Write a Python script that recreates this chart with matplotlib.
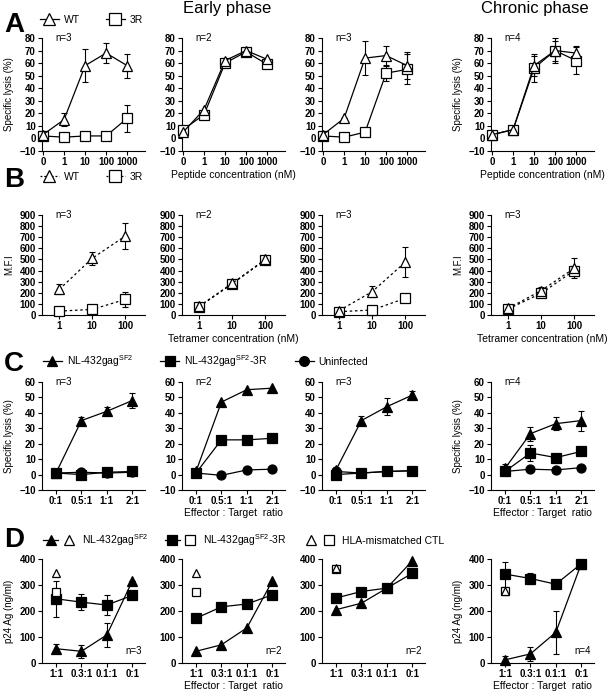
import numpy as np
import matplotlib
matplotlib.use("Agg")
import matplotlib.pyplot as plt
from matplotlib.lines import Line2D
from matplotlib.legend_handler import HandlerTuple

plt.rcParams['font.family'] = ['Liberation Sans', 'DejaVu Sans']

#%% data, one entry per column (early x3, chronic)
A_conc = ['0', '1', '10', '100', '1000']
A_n = ['n=3', 'n=2', 'n=3', 'n=4']
A_wt = [[3, 15, 58, 68, 58], [5, 23, 62, 70, 63], [3, 16, 64, 66, 58], [3, 7, 58, 70, 68]]
A_wt_err = [[0, 5, 13, 8, 9.5], None, [0, 0, 13.5, 7.5, 11], [2, 2, 8, 10, 6]]
A_3r = [[2, 1, 2, 2, 16], [7, 19, 60, 69, 59], [2, 1, 5, 52, 55], [3, 7, 56, 70, 62]]
A_3r_err = [[0, 0, 0, 0, 11], None, [0, 0, 0, 6, 12], [2, 2, 11, 8, 11]]

B_conc = [1, 10, 100]
B_n = ['n=3', 'n=2', 'n=3', 'n=3']
B_wt = [[230, 510, 710], [80, 285, 500], [40, 210, 475], [60, 220, 420]]
B_wt_err = [[45, 60, 120], None, [0, 50, 135], [0, 30, 90]]
B_3r = [[35, 50, 140], [75, 280, 495], [30, 45, 150], [55, 195, 400]]
B_3r_err = [[0, 0, 70], None, [0, 0, 35], [0, 30, 35]]

C_ratio = ['0:1', '0.5:1', '1:1', '2:1']
C_n = ['n=3', 'n=2', 'n=3', 'n=4']
C_wt = [[1, 35, 41, 48], [2, 47, 55, 56], [3, 35, 44, 51.5], [4, 26.5, 33, 35]]
C_wt_err = [[0, 2, 2.5, 5], None, [0, 3, 5.5, 2.5], [3, 4.5, 4, 6.5]]
C_3r = [[1, 0, 1.5, 2], [1, 22.5, 22.5, 23.5], [0, 1, 2, 2.5], [2, 14, 11, 15]]
C_3r_err = [[0, 0, 0, 0], None, [0, 0, 0, 0], [3, 5, 1, 1]]
C_un = [[1, 1.5, 1, 1.5], [1, -0.5, 3, 3.5], [2, 1, 2, 2.5], [2, 3.5, 3, 4.5]]

D_ratio = ['1:1', '0.3:1', '0.1:1', '0:1']
D_n = ['n=3', 'n=2', 'n=2', 'n=4']
D_wt = [[55, 45, 108, 315], [45, 70, 135, 315], [205, 230, 288, 393], [12, 35, 118, 382]]
D_wt_err = [[17, 25, 45, 0], None, None, [15, 28, 83, 0]]
D_3r = [[247, 234, 223, 260], [172, 216, 227, 262], [250, 275, 288, 345], [342, 325, 303, 382]]
D_3r_err = [[70, 30, 40, 0], None, None, [48, 20, 15, 0]]
D_mis_wt = [345, 345, 365, 278]
D_mis_3r = [275, 275, 362, 277]

#%% layout (pixels)
W, H = 608, 692
fig = plt.figure(figsize=(W / 100, H / 100), dpi=100)
col_left = [42, 182, 322, 491]
col_w = 103
rows = {'A': (38, 151), 'B': (215, 315), 'C': (382, 490), 'D': (559, 663)}

tick_kw = dict(labelsize=7, width=0.8, length=3, pad=1.5)


def make_ax(col, row):
    top, bot = rows[row]
    ax = fig.add_axes([col_left[col] / W, 1 - bot / H, col_w / W, (bot - top) / H])
    ax.spines['top'].set_visible(False)
    ax.spines['right'].set_visible(False)
    for s in ['left', 'bottom']:
        ax.spines[s].set_linewidth(0.8)
    ax.tick_params(**tick_kw)
    return ax


def series(ax, x, y, err, marker, filled, ls='-', ms=7.5):
    fc = 'black' if filled else 'white'
    if err is not None:
        ax.errorbar(x, y, yerr=err, fmt='none', ecolor='black', elinewidth=0.8,
                    capsize=2.5, capthick=0.8, zorder=2, clip_on=False)
    ax.plot(x, y, ls=ls, color='black', lw=0.9, marker=marker, ms=ms,
            mfc=fc, mec='black', mew=0.9, zorder=3, clip_on=False)


def bold_ticks(ax):
    for lab in ax.get_xticklabels() + ax.get_yticklabels():
        lab.set_fontweight('bold')


for c in range(4):
    # A
    ax = make_ax(c, 'A')
    xa = np.arange(len(A_conc))
    series(ax, xa, A_3r[c], A_3r_err[c], 's', False)
    series(ax, xa, A_wt[c], A_wt_err[c], '^', False)
    ax.set_xlim(-0.05, 4.85)
    ax.set_ylim(-10, 80)
    ax.set_yticks(np.arange(-10, 81, 10))
    ax.set_xticks(xa)
    ax.set_xticklabels(A_conc)
    ax.text(0.13, 1.0, A_n[c], transform=ax.transAxes, fontsize=7, va='center')
    if c in (0, 3):
        ax.set_ylabel('Specific lysis (%)', fontsize=7, labelpad=4)
    if c in (1, 3):
        ax.set_xlabel('Peptide concentration (nM)', fontsize=7.5, labelpad=2)
    bold_ticks(ax)

    # B
    ax = make_ax(c, 'B')
    series(ax, B_conc, B_3r[c], B_3r_err[c], 's', False, ls=(0, (2, 2.2)))
    series(ax, B_conc, B_wt[c], B_wt_err[c], '^', False, ls=(0, (2, 2.2)))
    ax.set_xscale('log')
    ax.set_xlim(0.3, 400)
    ax.set_ylim(0, 900)
    ax.set_yticks(np.arange(0, 901, 100))
    ax.set_xticks(B_conc)
    ax.set_xticklabels([str(v) for v in B_conc])
    ax.xaxis.set_minor_locator(matplotlib.ticker.NullLocator())
    ax.text(0.13, 1.0, B_n[c], transform=ax.transAxes, fontsize=7, va='center')
    if c in (0, 3):
        ax.set_ylabel('M.F.I', fontsize=7, labelpad=4)
    if c in (1, 3):
        ax.set_xlabel('Tetramer concentration (nM)', fontsize=7.5, labelpad=2)
    bold_ticks(ax)

    # C
    ax = make_ax(c, 'C')
    xc = np.arange(len(C_ratio))
    series(ax, xc, C_un[c], None, 'o', True, ms=6.5)
    series(ax, xc, C_3r[c], C_3r_err[c], 's', True, ms=6.5)
    series(ax, xc, C_wt[c], C_wt_err[c], '^', True, ms=6.5)
    ax.set_xlim(-0.55, 3.5)
    ax.set_ylim(-10, 60)
    ax.set_yticks(np.arange(-10, 61, 10))
    ax.set_xticks(xc)
    ax.set_xticklabels(C_ratio)
    ax.text(0.13, 1.0, C_n[c], transform=ax.transAxes, fontsize=7, va='center')
    if c in (0, 3):
        ax.set_ylabel('Specific lysis (%)', fontsize=7, labelpad=4)
    if c in (1, 3):
        ax.set_xlabel('Effector : Target  ratio', fontsize=7.5, labelpad=1)
    bold_ticks(ax)

    # D
    ax = make_ax(c, 'D')
    xd = np.arange(len(D_ratio))
    series(ax, xd, D_3r[c], D_3r_err[c], 's', True, ms=6.5)
    series(ax, xd, D_wt[c], D_wt_err[c], '^', True, ms=6.5)
    ax.plot([xd[0]], [D_mis_3r[c]], ls='none', marker='s', ms=6, mfc='white',
            mec='black', mew=0.9, zorder=4, clip_on=False)
    ax.plot([xd[0]], [D_mis_wt[c]], ls='none', marker='^', ms=6, mfc='white',
            mec='black', mew=0.9, zorder=4, clip_on=False)
    ax.set_xlim(-0.55, 3.5)
    ax.set_ylim(0, 400)
    ax.set_yticks(np.arange(0, 401, 100))
    ax.set_xticks(xd)
    ax.set_xticklabels(D_ratio)
    ax.text(0.97, 0.07, D_n[c], transform=ax.transAxes, fontsize=7, ha='right', va='bottom')
    if c in (0, 3):
        ax.set_ylabel('p24 Ag (ng/ml)', fontsize=7, labelpad=4)
    if c in (1, 3):
        ax.set_xlabel('Effector : Target  ratio', fontsize=7.5, labelpad=1)
    bold_ticks(ax)

#%% titles, panel letters, legends
fig.text(227 / W, 1 - 9 / H, 'Early phase', fontsize=12, ha='center', va='center')
fig.text(535 / W, 1 - 9 / H, 'Chronic phase', fontsize=12, ha='center', va='center')
for letter, yp in zip('ABCD', [25, 180, 364, 540]):
    fig.text(4 / W, 1 - yp / H, letter, fontsize=20, fontweight='bold', va='center')


def h(marker, filled, ls='-', ms=7.5):
    return Line2D([], [], color='black', lw=0.9, ls=ls, marker=marker, ms=ms,
                  mfc='black' if filled else 'white', mec='black', mew=0.9)


leg_kw = dict(frameon=False, fontsize=7.5, loc='center left', handlelength=1.8,
              handletextpad=0.5, borderaxespad=0, borderpad=0)
fig.legend([h('^', False, ms=8.5), h('s', False, ms=8.5)], ['WT', '3R'], ncol=2,
           columnspacing=2.5, bbox_to_anchor=(40 / W, 1 - 20 / H), **leg_kw)
dot = (0, (1.5, 1.5))
fig.legend([h('^', False, dot, ms=8.5), h('s', False, dot, ms=8.5)], ['WT', '3R'], ncol=2,
           columnspacing=2.5, bbox_to_anchor=(40 / W, 1 - 177 / H), **leg_kw)
sf2 = r'NL-432gag$^{\mathregular{SF2}}$'
fig.legend([h('^', True, ms=7), h('s', True, ms=7), h('o', True, ms=7)],
           [sf2, sf2 + '-3R', 'Uninfected'], ncol=3, columnspacing=2.6,
           bbox_to_anchor=(43 / W, 1 - 361 / H), **leg_kw)
opn = lambda m: Line2D([], [], ls='none', marker=m, ms=7, mfc='white', mec='black', mew=0.9)
d_kw = dict(leg_kw)
d_kw['handlelength'] = 3.2
fig.legend([(h('^', True, ms=7), opn('^')), (h('s', True, ms=7), opn('s')),
            (opn('^'), opn('s'))],
           [sf2, sf2 + '-3R', 'HLA-mismatched CTL'], ncol=3, columnspacing=1.6,
           handler_map={tuple: HandlerTuple(ndivide=None, pad=0.3)},
           bbox_to_anchor=(43 / W, 1 - 540 / H), **d_kw)

fig.savefig('out.png', dpi=100)
